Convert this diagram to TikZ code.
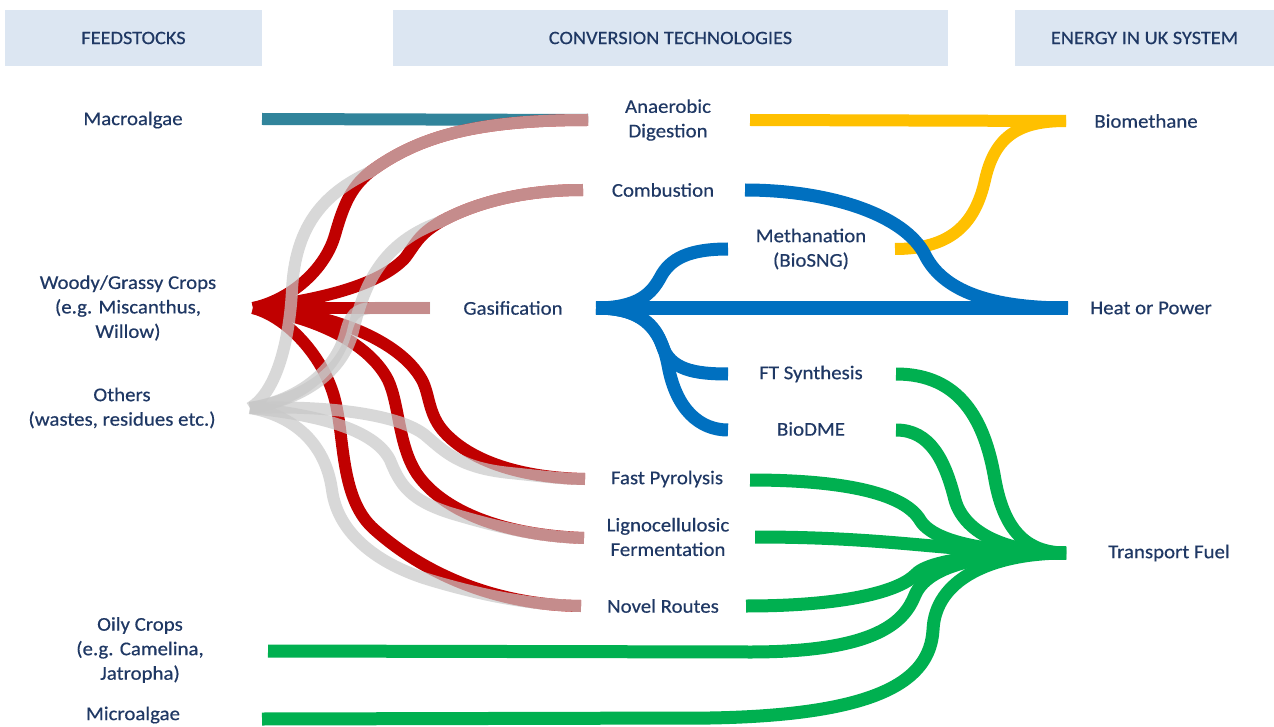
\documentclass[tikz,border=0pt]{standalone}
\usepackage{fontspec}
\setmainfont{Carlito}[FakeStretch=1.07, FakeBold=0.4]

\definecolor{headfill}{RGB}{220,230,242}
\definecolor{navytext}{RGB}{31,56,100}
\definecolor{algaeteal}{RGB}{49,132,155}
\definecolor{woodred}{RGB}{192,0,0}
\definecolor{wastegray}{RGB}{200,200,200}
\definecolor{gasblue}{RGB}{0,112,192}
\definecolor{methyellow}{RGB}{255,192,0}
\definecolor{fuelgreen}{RGB}{0,176,80}

\begin{document}
\begin{tikzpicture}[x=1pt,y=-1pt]
    % Define styles for headers, labels and flows
    \tikzstyle{headbox} = [rectangle, fill=headfill, text=navytext, minimum height=56pt, inner sep=0pt, font=\fontsize{19}{24}\selectfont]
    \tikzstyle{txt} = [text=navytext, align=center, inner sep=0pt, font=\fontsize{19.5}{24.5}\selectfont]
    \tikzstyle{flow} = [line width=12pt, line join=round]
    \tikzstyle{redflow} = [flow, woodred]
    \tikzstyle{grayflow} = [flow, wastegray, opacity=0.7]
    \tikzstyle{blueflow} = [flow, gasblue, line width=13pt]
    \tikzstyle{greenflow} = [flow, fuelgreen, line width=13pt]

    \path[use as bounding box, fill=white] (0,0) rectangle (1274,727);

    % Headers
    \node (hfeed) [headbox, minimum width=257pt] at (133.5,38) {FEEDSTOCKS};
    \node (hconv) [headbox, minimum width=555pt] at (670.5,38) {CONVERSION TECHNOLOGIES};
    \node (henergy) [headbox, minimum width=259pt] at (1144.5,38) {ENERGY IN UK SYSTEM};

    % Feedstocks
    \node (macro) [txt] at (133,120) {Macroalgae};
    \node (woody) [txt] at (128,308) {Woody/Grassy Crops\\(e.g. Miscanthus,\\Willow)};
    \node (others) [txt] at (122,408) {Others\\(wastes, residues etc.)};
    \node (oily) [txt] at (140,650) {Oily Crops\\(e.g. Camelina,\\Jatropha)};
    \node (micro) [txt] at (133,715) {Microalgae};

    % Conversion technologies
    \node (ad) [txt] at (668,120) {Anaerobic\\Digestion};
    \node (comb) [txt] at (663,190) {Combustion};
    \node (meth) [txt] at (811,249) {Methanation\\(BioSNG)};
    \node (gas) [txt] at (513,308) {Gasification};
    \node (ft) [txt] at (811,374) {FT Synthesis};
    \node (dme) [txt] at (811,429) {BioDME};
    \node (pyro) [txt] at (667,479) {Fast Pyrolysis};
    \node (ligno) [txt] at (668,537) {Lignocellulosic\\Fermentation};
    \node (novel) [txt] at (663,606) {Novel Routes};

    % Energy carriers
    \node (biomethane) [txt] at (1146,121) {Biomethane};
    \node (heat) [txt] at (1151,308) {Heat or Power};
    \node (transport) [txt] at (1169,553) {Transport Fuel};

    % Flow ends
    \coordinate (macro-out) at (262,119);
    \coordinate (woody-out) at (253,308);
    \coordinate (others-out) at (250,408);
    \coordinate (oily-out) at (268,651);
    \coordinate (micro-out) at (262,719);
    \coordinate (ad-in) at (588,120);
    \coordinate (ad-out) at (750,120);
    \coordinate (comb-in) at (583,190);
    \coordinate (comb-out) at (745,190);
    \coordinate (gas-in) at (430,308);
    \coordinate (gas-out) at (596,308);
    \coordinate (meth-in) at (728,249);
    \coordinate (meth-out) at (895,249);
    \coordinate (ft-in) at (728,374);
    \coordinate (ft-out) at (896,374);
    \coordinate (dme-in) at (728,430);
    \coordinate (dme-out) at (896,430);
    \coordinate (pyro-in) at (585,479);
    \coordinate (pyro-out) at (750,480);
    \coordinate (ligno-in) at (584,538);
    \coordinate (ligno-out) at (755,537);
    \coordinate (novel-in) at (581,606);
    \coordinate (novel-out) at (746,606);
    \coordinate (biomethane-in) at (1066,121);
    \coordinate (heat-in) at (1068,308);
    \coordinate (transport-in) at (1066,553);

    % Macroalgae
    \draw [flow, algaeteal] (macro-out) -- (ad-in);

    % Woody/grassy crops
    \draw [redflow] (woody-out) .. controls (290,300) and (325,270) .. (335,235) .. controls (343,207) and (350,188) .. (370,172) .. controls (420,135) and (480,120) .. (ad-in);
    \draw [redflow] (woody-out) .. controls (320,300) and (380,285) .. (405,258) .. controls (415,245) and (418,235) .. (440,222) .. controls (480,200) and (530,190) .. (comb-in);
    \draw [redflow] (woody-out) -- (gas-in);
    \draw [redflow] (woody-out) .. controls (330,312) and (400,340) .. (422,380) .. controls (430,395) and (428,415) .. (445,433) .. controls (475,465) and (530,478) .. (pyro-in);
    \draw [redflow] (woody-out) .. controls (320,318) and (370,345) .. (388,380) .. controls (400,405) and (398,450) .. (420,478) .. controls (445,510) and (500,535) .. (ligno-in);
    \draw [redflow] (woody-out) .. controls (290,318) and (325,360) .. (335,400) .. controls (345,440) and (340,500) .. (375,530) .. controls (420,570) and (490,605) .. (novel-in);

    % Other wastes and residues
    \draw [grayflow] (others-out) .. controls (280,390) and (290,330) .. (292,290) .. controls (295,230) and (320,195) .. (370,172) .. controls (420,135) and (480,120) .. (ad-in);
    \draw [grayflow] (others-out) .. controls (300,400) and (340,375) .. (352,335) .. controls (362,295) and (375,245) .. (440,222) .. controls (480,200) and (530,190) .. (comb-in);
    \draw [grayflow] (others-out) .. controls (300,400) and (335,370) .. (345,335) .. controls (350,315) and (355,308) .. (375,308) -- (gas-in);
    \draw [grayflow] (others-out) .. controls (330,405) and (400,415) .. (425,435) .. controls (445,452) and (460,468) .. (510,473) .. controls (540,476) and (560,479) .. (pyro-in);
    \draw [grayflow] (others-out) .. controls (320,415) and (375,430) .. (390,460) .. controls (400,485) and (410,500) .. (450,513) .. controls (500,528) and (540,537) .. (ligno-in);
    \draw [grayflow] (others-out) .. controls (290,415) and (325,440) .. (332,490) .. controls (338,535) and (380,565) .. (430,580) .. controls (480,595) and (530,605) .. (novel-in);

    % Biomethane
    \draw [flow, methyellow] (ad-out) -- (biomethane-in);
    \draw [flow, methyellow] (meth-out) .. controls (950,249) and (975,225) .. (985,180) .. controls (995,135) and (1020,121) .. (biomethane-in);

    % Gasification routes
    \draw [blueflow] (gas-out) -- (heat-in);
    \draw [blueflow] (gas-out) .. controls (640,308) and (652,292) .. (660,278) .. controls (670,258) and (690,249) .. (meth-in);
    \draw [blueflow] (gas-out) .. controls (640,308) and (655,325) .. (662,345) .. controls (670,370) and (695,374) .. (ft-in);
    \draw [blueflow] (gas-out) .. controls (640,308) and (660,325) .. (668,365) .. controls (676,410) and (700,430) .. (dme-in);
    \draw [blueflow] (comb-out) .. controls (830,190) and (905,215) .. (925,255) .. controls (945,295) and (1000,308) .. (heat-in);

    % Transport fuel
    \draw [greenflow] (pyro-out) .. controls (850,480) and (905,495) .. (920,520) .. controls (935,545) and (1000,553) .. (transport-in);
    \draw [greenflow] (ligno-out) .. controls (900,537) and (950,553) .. (transport-in);
    \draw [greenflow] (novel-out) .. controls (850,606) and (900,590) .. (915,575) .. controls (930,558) and (1000,553) .. (transport-in);
    \draw [greenflow] (oily-out) -- (750,652) .. controls (880,652) and (905,620) .. (915,595) .. controls (930,560) and (1000,553) .. (transport-in);
    \draw [greenflow] (micro-out) -- (710,718) .. controls (880,715) and (930,680) .. (933,630) .. controls (935,580) and (990,553) .. (transport-in);
    \draw [greenflow] (ft-out) .. controls (960,374) and (985,420) .. (995,480) .. controls (1005,535) and (1030,553) .. (transport-in);
    \draw [greenflow] (dme-out) .. controls (930,430) and (945,460) .. (955,500) .. controls (965,535) and (1010,553) .. (transport-in);

\end{tikzpicture}
\end{document}
